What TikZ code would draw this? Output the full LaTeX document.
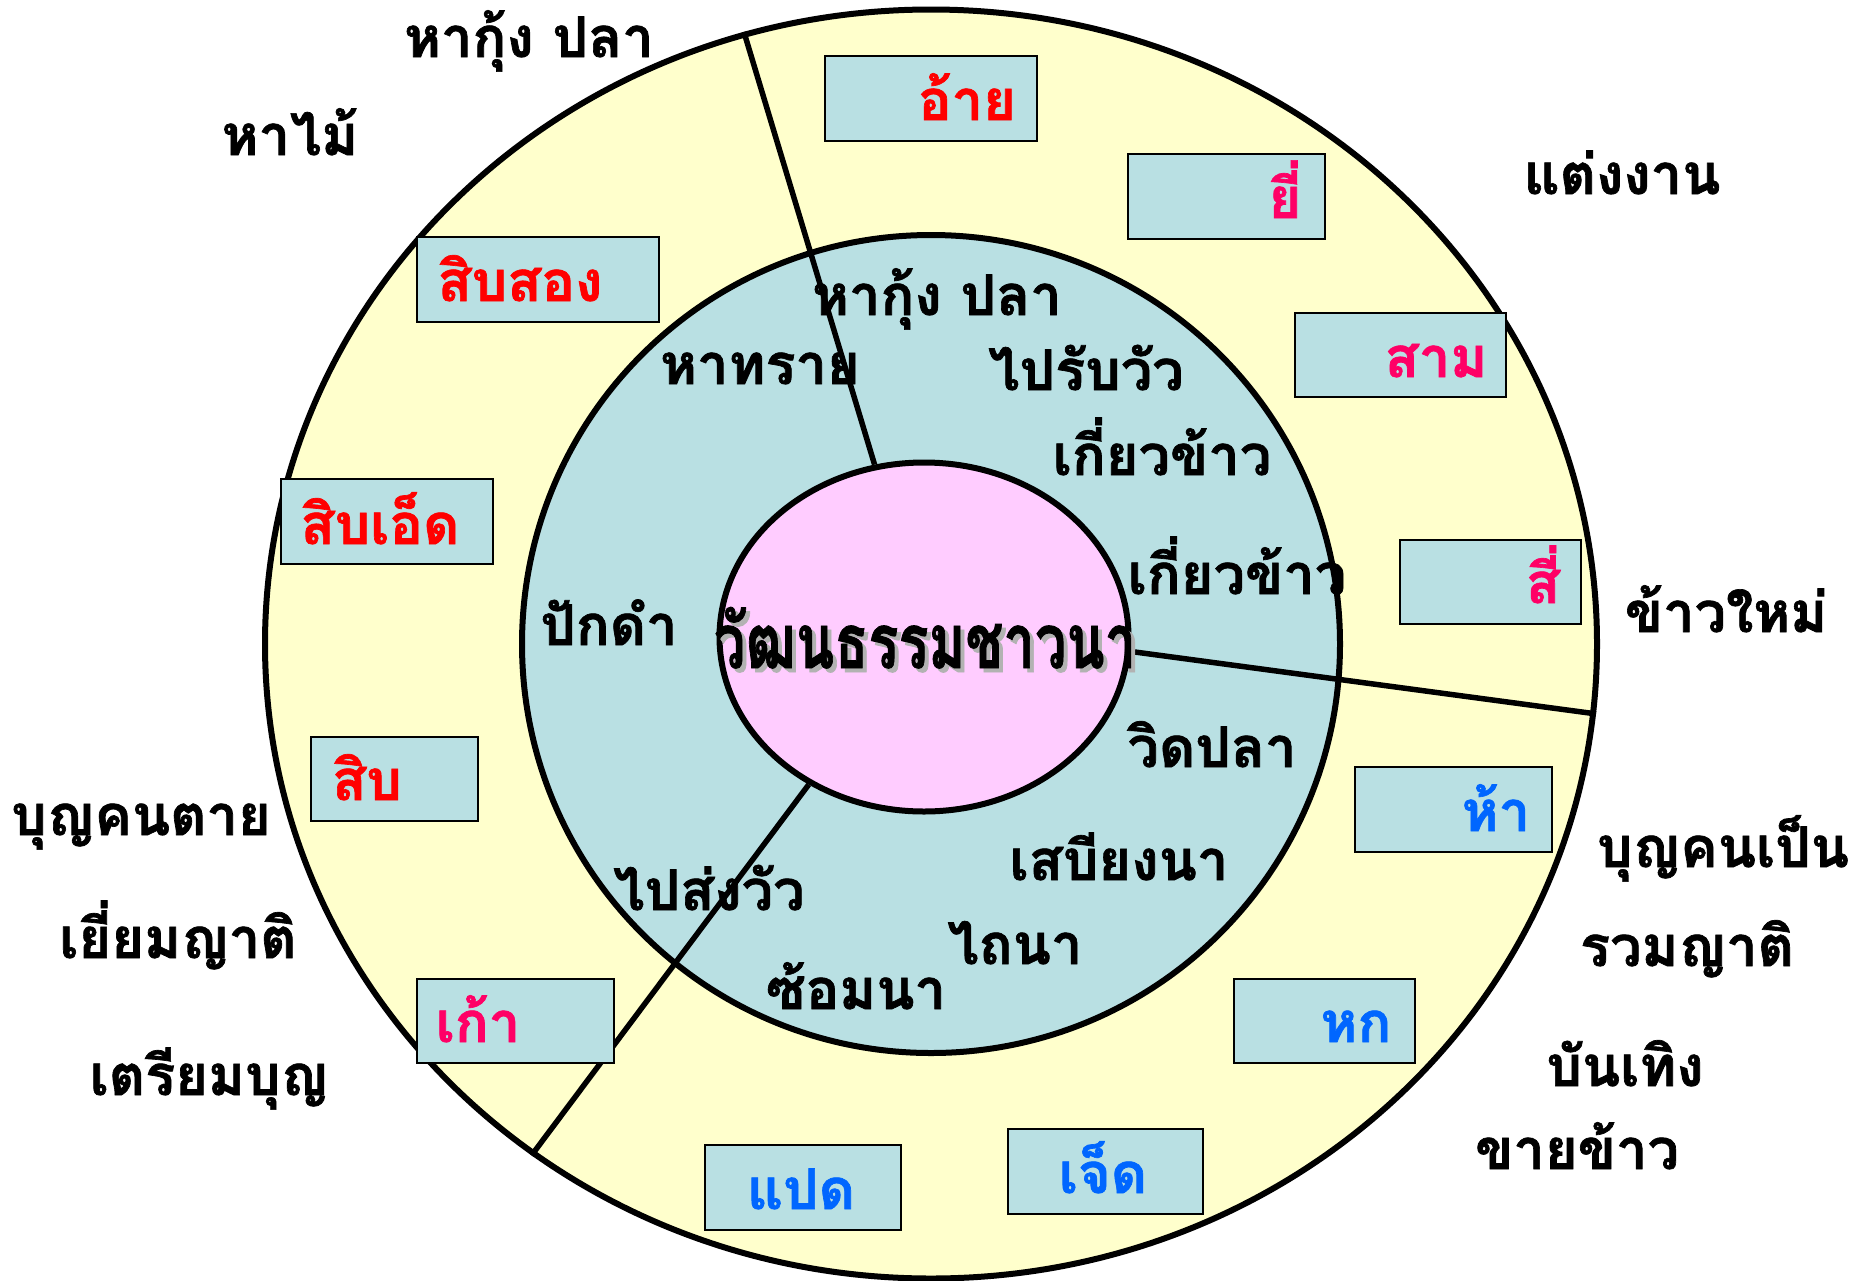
\documentclass[tikz,border=0pt]{standalone}
\usepackage{fontspec}
\newfontfamily\thaifont[Script=Thai, BoldFeatures={FakeBold=1.2}]{Loma}
\usetikzlibrary{shapes.geometric}
\definecolor{ringyellow}{HTML}{FFFFCC}
\definecolor{ringblue}{HTML}{B9E0E3}
\definecolor{corepink}{HTML}{FFCCFF}
\definecolor{txtred}{HTML}{FF0000}
\definecolor{txtpink}{HTML}{FF0066}
\definecolor{txtblue}{HTML}{0066FF}
\begin{document}
\begin{tikzpicture}[x=1pt,y=-1pt,
  lbl/.style={font=\thaifont\bfseries\fontsize{56}{66}\selectfont, inner sep=0pt, anchor=base},
  monthbox/.style={draw=black, line width=2pt, fill=ringblue, inner sep=0pt, anchor=north west},
  ring/.style={ellipse, draw=black, line width=6pt, inner sep=0pt},
  divider/.style={draw=black, line width=5.5pt}]
\useasboundingbox (0,0) rectangle (1870,1280);
% rings
\node[ring, fill=ringyellow, minimum width=1332pt, minimum height=1269pt] (outer) at (931,644) {};
\node[ring, fill=ringblue, minimum width=818pt, minimum height=818pt] (middle) at (931,644) {};
\node[ring, fill=corepink, minimum width=409pt, minimum height=349pt] (core) at (924,637) {};
% dividers
\draw[divider] (core.106) -- (outer.107.9);
\draw[divider] (core.-4.2) -- (outer.-6.0);
\draw[divider] (core.232.9) -- (outer.232.7);
% month boxes
\node[monthbox, minimum width=212pt, minimum height=85pt] (b1) at (824,55) {};
\node[monthbox, minimum width=197pt, minimum height=85pt] (b2) at (1127,153) {};
\node[monthbox, minimum width=211pt, minimum height=84pt] (b3) at (1294,312) {};
\node[monthbox, minimum width=181pt, minimum height=84pt] (b4) at (1399,539) {};
\node[monthbox, minimum width=197pt, minimum height=85pt] (b5) at (1354,766) {};
\node[monthbox, minimum width=181pt, minimum height=84pt] (b6) at (1233,978) {};
\node[monthbox, minimum width=195pt, minimum height=85pt] (b7) at (1007,1128) {};
\node[monthbox, minimum width=196pt, minimum height=85pt] (b8) at (704,1144) {};
\node[monthbox, minimum width=197pt, minimum height=84pt] (b9) at (416,978) {};
\node[monthbox, minimum width=167pt, minimum height=84pt] (b10) at (310,736) {};
\node[monthbox, minimum width=212pt, minimum height=85pt] (b11) at (280,478) {};
\node[monthbox, minimum width=242pt, minimum height=85pt] (b12) at (416,236) {};
% month labels
\node[lbl, text=txtred] (m1) at (967,120) {อ้าย};
\node[lbl, text=txtpink] (m2) at (1285,218) {ยี่};
\node[lbl, text=txtpink] (m3) at (1436,377) {สาม};
\node[lbl, text=txtpink] (m4) at (1543,603) {สี่};
\node[lbl, text=txtblue] (m5) at (1496,831) {ห้า};
\node[lbl, text=txtblue] (m6) at (1356,1042) {หก};
\node[lbl, text=txtblue] (m7) at (1103,1193) {เจ็ด};
\node[lbl, text=txtblue] (m8) at (801,1209) {แปด};
\node[lbl, text=txtpink] (m9) at (478,1042) {เก้า};
\node[lbl, text=txtred] (m10) at (367,800) {สิบ};
\node[lbl, text=txtred] (m11) at (380,544) {สิบเอ็ด};
\node[lbl, text=txtred] (m12) at (520,301) {สิบสอง};
% outer activities
\node[lbl] (o1) at (529,57) {หากุ้ง ปลา};
\node[lbl] (o2) at (290,155) {หาไม้};
\node[lbl] (o3) at (1622,194) {แต่งงาน};
\node[lbl] (o4) at (1726,632) {ข้าวใหม่};
\node[lbl] (o5) at (141,835) {บุญคนตาย};
\node[lbl] (o6) at (1723,867) {บุญคนเป็น};
\node[lbl] (o7) at (178,958) {เยี่ยมญาติ};
\node[lbl] (o8) at (1687,966) {รวมญาติ};
\node[lbl] (o9) at (209,1095) {เตรียมบุญ};
\node[lbl] (o10) at (1625,1086) {บันเทิง};
\node[lbl] (o11) at (1577,1169) {ขายข้าว};
% inner activities
\node[lbl] (i1) at (937,315) {หากุ้ง ปลา};
\node[lbl] (i2) at (760,384) {หาทราย};
\node[lbl] (i3) at (1086,390) {ไปรับวัว};
\node[lbl] (i4) at (1162,475) {เกี่ยวข้าว};
\node[lbl] (i5) at (1237,594) {เกี่ยวข้าว};
\node[lbl] (i6) at (609,645) {ปักดำ};
\node[lbl] (i7) at (1212,767) {วิดปลา};
\node[lbl] (i8) at (1119,880) {เสบียงนา};
\node[lbl] (i9) at (709,910) {ไปส่งวัว};
\node[lbl] (i10) at (1015,964) {ไถนา};
\node[lbl] (i11) at (856,1009) {ซ้อมนา};
% centre title with shadow
\node[anchor=base, inner sep=0pt, text=black!30, font=\thaifont\bfseries\fontsize{56}{66}\selectfont] (ctrshadow) at (929,672) {\scalebox{1.0}[1.35]{วัฒนธรรมชาวนา}};
\node[anchor=base, inner sep=0pt, text=black, font=\thaifont\bfseries\fontsize{56}{66}\selectfont] (ctr) at (925,668) {\scalebox{1.0}[1.35]{วัฒนธรรมชาวนา}};
\end{tikzpicture}
\end{document}
